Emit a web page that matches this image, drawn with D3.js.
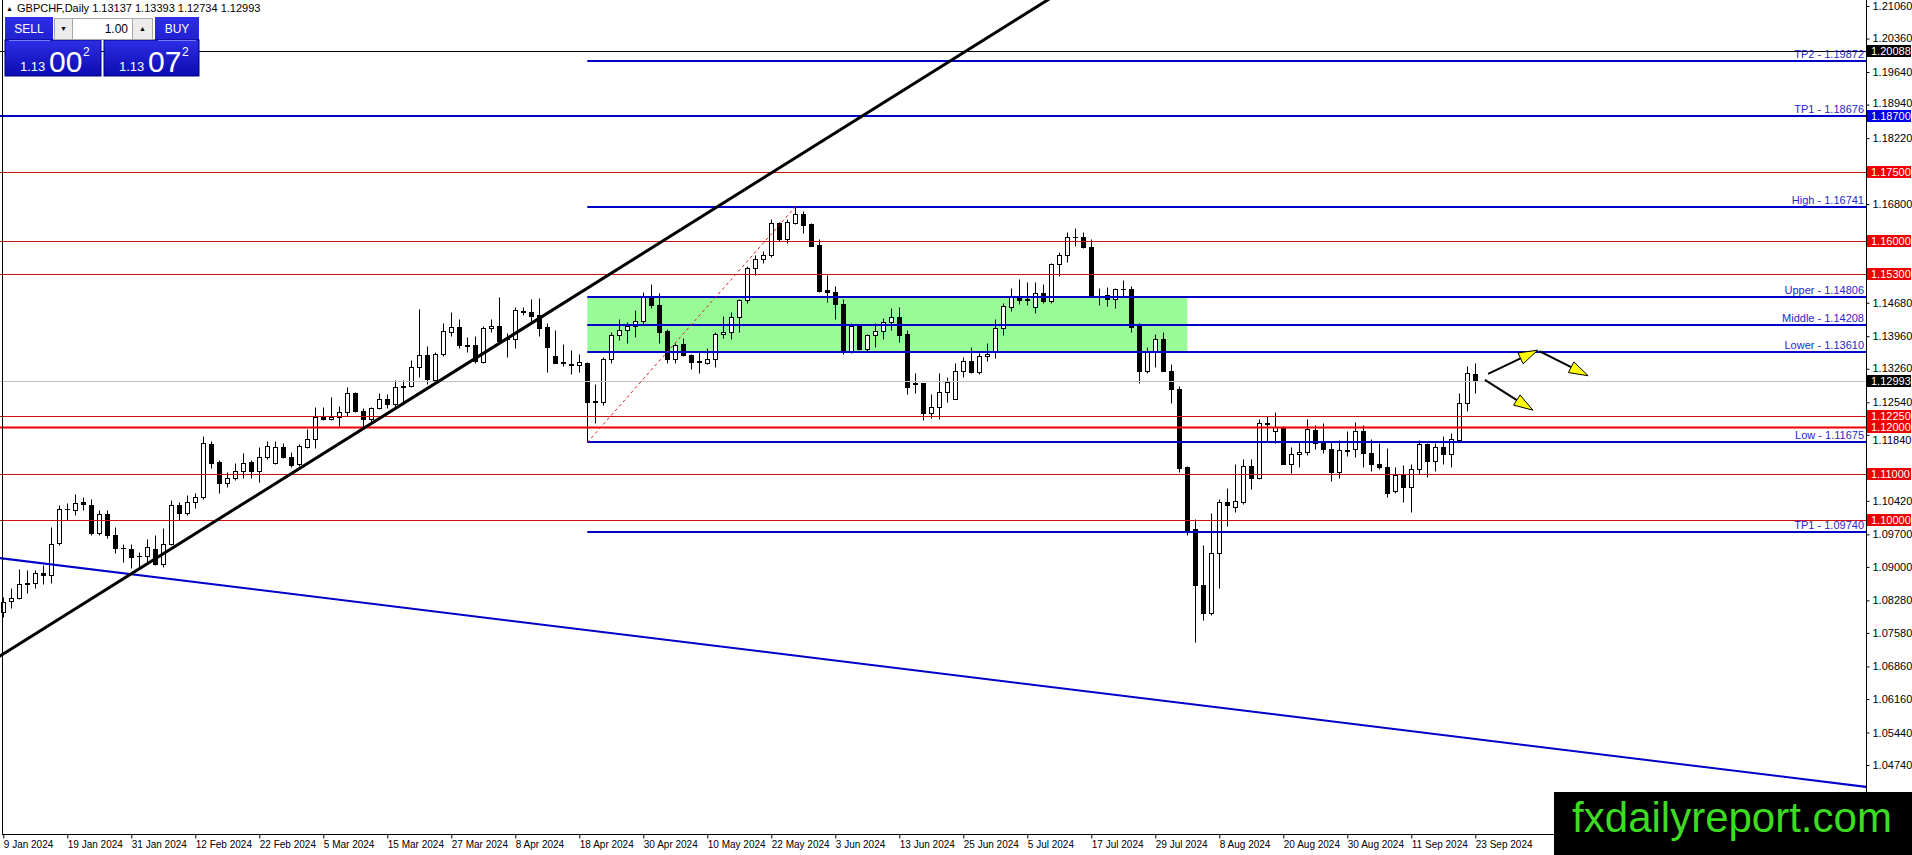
<!DOCTYPE html>
<html>
<head>
<meta charset="utf-8">
<title>GBPCHF Daily</title>
<script src="https://cdn.jsdelivr.net/npm/d3@7/dist/d3.min.js"></script>
<style>
  body { margin: 0; background: #fff; overflow: hidden; }
  svg { display: block; font-family: "Liberation Sans", Arial, sans-serif; }
</style>
</head>
<body>
<svg id="chart" width="1912" height="855"></svg>
<script>
// GBPCHF daily bars, 9 Jan 2024 .. 23 Sep 2024 (one per trading day)
const opens = [
  1.0804,1.0827,1.0834,1.0863,1.0866,1.0886,1.0882,1.0952,1.1024,1.1022,
  1.1039,1.1034,1.0973,1.1013,1.0968,1.0940,1.0938,1.0923,1.0923,1.0938,
  1.0907,1.0950,1.1034,1.1016,1.1040,1.1051,1.1164,1.1125,1.1080,1.1092,
  1.1107,1.1125,1.1107,1.1137,1.1124,1.1157,1.1137,1.1121,1.1158,1.1176,
  1.1223,1.1217,1.1222,1.1234,1.1273,1.1236,1.1219,1.1241,1.1262,1.1250,
  1.1287,1.1289,1.1329,1.1356,1.1302,1.1357,1.1406,1.1415,1.1378,1.1378,
  1.1341,1.1413,1.1418,1.1389,1.1389,1.1451,1.1447,1.1442,1.1416,1.1353,
  1.1340,1.1337,1.1335,1.1339,1.1254,1.1254,1.1346,1.1399,1.1409,1.1418,
  1.1429,1.1480,1.1464,1.1407,1.1348,1.1379,1.1356,1.1342,1.1339,1.1346,
  1.1401,1.1406,1.1438,1.1474,1.1542,1.1563,1.1571,1.1640,1.1604,1.1640,
  1.1659,1.1637,1.1592,1.1495,1.1490,1.1465,1.1361,1.1418,1.1368,1.1399,
  1.1407,1.1427,1.1438,1.1401,1.1294,1.1295,1.1230,1.1243,1.1275,1.1262,
  1.1322,1.1343,1.1320,1.1353,1.1361,1.1413,1.1458,1.1481,1.1477,1.1458,
  1.1488,1.1472,1.1551,1.1571,1.1609,1.1609,1.1587,1.1482,1.1485,1.1475,
  1.1497,1.1498,1.1422,1.1322,1.1363,1.1389,1.1322,1.1282,1.1115,1.0981,
  1.0861,1.0800,1.0929,1.1040,1.1029,1.1040,1.1117,1.1092,1.1210,1.1193,
  1.1201,1.1122,1.1142,1.1146,1.1194,1.1167,1.1153,1.1103,1.1150,1.1153,
  1.1192,1.1144,1.1122,1.1115,1.1064,1.1097,1.1071,1.1110,1.1164,1.1128,
  1.1157,1.1143,1.1173,1.1253,1.13137
];
const highs = [
  1.0836,1.0854,1.0895,1.0893,1.0893,1.0904,1.0985,1.1033,1.1037,1.1056,
  1.1051,1.1047,1.1022,1.1022,1.0986,1.0950,1.0950,1.0933,1.0961,1.0968,
  1.0983,1.1044,1.1040,1.1054,1.1058,1.1181,1.1171,1.1130,1.1103,1.1124,
  1.1144,1.1130,1.1157,1.1171,1.1171,1.1167,1.1148,1.1164,1.1196,1.1244,
  1.1244,1.1265,1.1246,1.1286,1.1277,1.1241,1.1244,1.1273,1.1271,1.1302,
  1.1302,1.1345,1.1454,1.1376,1.1363,1.1425,1.1447,1.1434,1.1395,1.1396,
  1.1418,1.1434,1.1481,1.1402,1.1458,1.1459,1.1477,1.1479,1.1425,1.1409,
  1.1379,1.1366,1.1358,1.1341,1.1293,1.1351,1.1404,1.1432,1.1427,1.1452,
  1.1490,1.1508,1.1488,1.1411,1.1381,1.1393,1.1358,1.1363,1.1370,1.1404,
  1.1439,1.1449,1.1475,1.1547,1.1571,1.1580,1.1647,1.1642,1.1649,1.16741,
  1.1666,1.1640,1.1604,1.1528,1.1504,1.1477,1.1424,1.1420,1.1400,1.1424,
  1.1436,1.1456,1.1458,1.1409,1.1317,1.1296,1.1272,1.1316,1.1309,1.1339,
  1.1352,1.1372,1.1359,1.1382,1.1434,1.1467,1.1499,1.1518,1.1513,1.1513,
  1.1508,1.1554,1.1576,1.1621,1.1628,1.1621,1.1606,1.1499,1.1502,1.1499,
  1.1517,1.1503,1.1424,1.1373,1.1401,1.1406,1.1336,1.1289,1.1117,1.1002,
  1.0947,1.1015,1.1047,1.1069,1.1121,1.1131,1.1133,1.1217,1.1224,1.1233,
  1.1203,1.1158,1.1171,1.1219,1.1205,1.1210,1.1171,1.1173,1.1193,1.1212,
  1.1205,1.1174,1.1167,1.1155,1.1115,1.1119,1.1122,1.1173,1.1167,1.1167,
  1.1181,1.1187,1.1274,1.1332,1.13393
];
const lows = [
  1.0793,1.0811,1.0830,1.0843,1.0854,1.0864,1.0866,1.0947,1.1001,1.1011,
  1.1022,1.0968,1.0968,1.0963,1.0930,1.0911,1.0897,1.0897,1.0909,1.0904,
  1.0900,1.0947,1.1001,1.1011,1.1026,1.1047,1.1112,1.1058,1.1071,1.1087,
  1.1092,1.1092,1.1082,1.1133,1.1121,1.1135,1.1115,1.1117,1.1155,1.1155,
  1.1216,1.1216,1.1203,1.1224,1.1234,1.1201,1.1212,1.1239,1.1241,1.1244,
  1.1252,1.1287,1.1309,1.1293,1.1298,1.1353,1.1396,1.1370,1.1363,1.1339,
  1.1339,1.1406,1.1381,1.1352,1.1370,1.1442,1.1427,1.1396,1.1318,1.1338,
  1.1332,1.1315,1.1320,1.11675,1.1210,1.1248,1.1339,1.1388,1.1381,1.1395,
  1.1422,1.1456,1.1381,1.1339,1.1339,1.1353,1.1325,1.1316,1.1336,1.1330,
  1.1393,1.1391,1.1406,1.1467,1.1528,1.1553,1.1566,1.1601,1.1597,1.1637,
  1.1617,1.1589,1.1492,1.1470,1.1434,1.1358,1.1359,1.1366,1.1365,1.1372,
  1.1389,1.1409,1.1384,1.1272,1.1273,1.1216,1.1221,1.1217,1.1254,1.1261,
  1.1309,1.1317,1.1314,1.1343,1.1350,1.1399,1.1451,1.1465,1.1463,1.1445,
  1.1467,1.1468,1.1525,1.1556,1.1590,1.1585,1.1480,1.1463,1.1460,1.1456,
  1.1482,1.1406,1.1295,1.1316,1.1330,1.1321,1.1253,1.1105,1.0968,1.0739,
  1.0786,1.0796,1.0854,1.0988,1.1019,1.1035,1.1067,1.1088,1.1169,1.1166,
  1.1121,1.1102,1.1115,1.1140,1.1153,1.1144,1.1085,1.1092,1.1139,1.1137,
  1.1114,1.1107,1.1110,1.1051,1.1058,1.1040,1.1019,1.1100,1.1094,1.1107,
  1.1122,1.1115,1.1171,1.1236,1.12734
];
const closes = [
  1.0825,1.0834,1.0864,1.0866,1.0886,1.0882,1.0950,1.1024,1.1025,1.1038,
  1.1035,1.0973,1.1013,1.0968,1.0940,1.0941,1.0922,1.0924,1.0942,1.0907,
  1.0950,1.1034,1.1016,1.1040,1.1051,1.1166,1.1124,1.1080,1.1092,1.1107,
  1.1124,1.1107,1.1137,1.1160,1.1157,1.1137,1.1119,1.1160,1.1176,1.1223,
  1.1217,1.1223,1.1234,1.1273,1.1236,1.1217,1.1241,1.1262,1.1250,1.1287,
  1.1289,1.1329,1.1356,1.1305,1.1357,1.1407,1.1415,1.1377,1.1376,1.1343,
  1.1413,1.1418,1.1386,1.1393,1.1452,1.1449,1.1440,1.1414,1.1373,1.1339,
  1.1338,1.1335,1.1340,1.1254,1.1256,1.1346,1.1399,1.1409,1.1418,1.1429,
  1.1480,1.1464,1.1406,1.1348,1.1377,1.1356,1.1341,1.1340,1.1346,1.1401,
  1.1406,1.1438,1.1474,1.1542,1.1563,1.1571,1.1639,1.1604,1.1642,1.1659,
  1.1635,1.1590,1.1494,1.1490,1.1465,1.1361,1.1418,1.1368,1.1399,1.1407,
  1.1427,1.1438,1.1399,1.1286,1.1295,1.1230,1.1243,1.1275,1.1297,1.1322,
  1.1343,1.1320,1.1353,1.1358,1.1413,1.1461,1.1481,1.1474,1.1474,1.1488,
  1.1472,1.1551,1.1571,1.1609,1.1610,1.1587,1.1481,1.1483,1.1475,1.1497,
  1.1498,1.1416,1.1322,1.1363,1.1389,1.1322,1.1282,1.1112,1.0976,1.0861,
  1.0800,1.0929,1.1040,1.1033,1.1042,1.1117,1.1092,1.1209,1.1208,1.1201,
  1.1122,1.1142,1.1146,1.1196,1.1166,1.1153,1.1103,1.1151,1.1152,1.1192,
  1.1144,1.1122,1.1115,1.1059,1.1097,1.1071,1.1110,1.1164,1.1128,1.1157,
  1.1143,1.1174,1.1253,1.1316,1.12993
];

// time axis labels, one every 8 bars
const dateLabels = ["9 Jan 2024","19 Jan 2024","31 Jan 2024","12 Feb 2024","22 Feb 2024",
  "5 Mar 2024","15 Mar 2024","27 Mar 2024","8 Apr 2024","18 Apr 2024","30 Apr 2024",
  "10 May 2024","22 May 2024","3 Jun 2024","13 Jun 2024","25 Jun 2024","5 Jul 2024",
  "17 Jul 2024","29 Jul 2024","8 Aug 2024","20 Aug 2024","30 Aug 2024","11 Sep 2024","23 Sep 2024"];
const labelStep = 8;

const priceTicks = [1.21060,1.20360,1.19640,1.18940,1.18220,1.17500,1.16800,1.16080,1.15380,
  1.14680,1.13960,1.13260,1.12540,1.11840,1.11120,1.10420,1.09700,1.09000,1.08280,1.07580,
  1.06860,1.06160,1.05440,1.04740];

// horizontal support / resistance levels
const redLevels = [1.17500, 1.16000, 1.15300, 1.12250, 1.12000, 1.11000, 1.10000];
const blackLevel = 1.20088;
const levelPrices = [1.19872, 1.18700, 1.16741, 1.14806, 1.14208, 1.13610, 1.11675, 1.09740];
const levelTexts = ["TP2 - 1.19872","TP1 - 1.18676","High - 1.16741","Upper - 1.14806",
  "Middle - 1.14208","Lower - 1.13610","Low - 1.11675","TP1 - 1.09740"];
const levelFromBar = [73, null, 73, 73, 73, 73, 73, 73];

// zone box (bar range, price range)
const zoneBars = [73, 148];
const zonePrices = [1.14806, 1.13610];

// trend lines: two anchor points each (bar, price)
const upTrendBars = [0, 100], upTrendPrices = [1.0713, 1.1790];
const downTrendBars = [0, 184], downTrendPrices = [1.0918, 1.0530];
const fibBars = [73, 99], fibPrices = [1.11675, 1.16741];

// forecast arrows
const arrowFromBar = [185.6, 192.0, 185.2], arrowFromPrice = [1.1315, 1.1364, 1.1302];
const arrowToBar = [191.8, 198.1, 191.2], arrowToPrice = [1.1366, 1.1311, 1.1237];

const plotRight = 1866, plotBottom = 834;
const svg = d3.select("#chart");
const n = opens.length;
const fmt = d3.format(".5f");

const x = d3.scaleLinear().domain([0, n - 1]).range([3.3, 3.3 + 8 * (n - 1)]);
const y = d3.scaleLinear().domain([1.03257, 1.21189]).range([plotBottom, 0]);
const px = v => Math.round(x(v)) + 0.5;
const py = v => Math.round(y(v)) + 0.5;

const defs = svg.append("defs");
defs.append("clipPath").attr("id", "plot")
  .append("rect").attr("width", plotRight).attr("height", plotBottom);
const grad = defs.append("linearGradient").attr("id", "btn").attr("x1", 0).attr("y1", 0).attr("x2", 0).attr("y2", 1);
grad.append("stop").attr("offset", "0%").attr("stop-color", "#2e2ee6");
grad.append("stop").attr("offset", "100%").attr("stop-color", "#0b0bb0");

const g = svg.append("g").attr("clip-path", "url(#plot)");

// zone
g.append("rect")
  .attr("x", x(zoneBars[0])).attr("width", x(zoneBars[1]) - x(zoneBars[0]))
  .attr("y", y(zonePrices[0])).attr("height", y(zonePrices[1]) - y(zonePrices[0]))
  .attr("fill", "#98fb98");

// candles
const bars = g.append("g").selectAll("g").data(d3.range(n)).join("g");
bars.append("line")
  .attr("x1", i => px(i)).attr("x2", i => px(i))
  .attr("y1", i => py(highs[i])).attr("y2", i => py(lows[i]))
  .attr("stroke", "#000").attr("stroke-width", 1);
bars.append("rect")
  .attr("x", i => px(i) - 2).attr("width", 4)
  .attr("y", i => py(Math.max(opens[i], closes[i])))
  .attr("height", i => Math.max(0.01, py(Math.min(opens[i], closes[i])) - py(Math.max(opens[i], closes[i]))))
  .attr("fill", i => closes[i] >= opens[i] ? "#fff" : "#000")
  .attr("stroke", "#000").attr("stroke-width", 1)
  .attr("shape-rendering", "crispEdges");

// current price line
g.append("line").attr("x1", 0).attr("x2", plotRight)
  .attr("y1", py(closes[n - 1])).attr("y2", py(closes[n - 1]))
  .attr("stroke", "#c0c0c0").attr("stroke-width", 1);

// red levels
g.selectAll(".red").data(redLevels).join("line")
  .attr("x1", 0).attr("x2", plotRight)
  .attr("y1", d => py(d)).attr("y2", d => py(d))
  .attr("stroke", d => d === 1.12 ? "#ee0000" : "#cc1111")
  .attr("stroke-width", d => d === 1.12 ? 2 : 1);

// black level
g.append("line").attr("x1", 0).attr("x2", plotRight)
  .attr("y1", py(blackLevel)).attr("y2", py(blackLevel))
  .attr("stroke", "#000").attr("stroke-width", 1);

// blue levels
g.selectAll(".blue").data(levelPrices).join("line")
  .attr("x1", (d, i) => levelFromBar[i] === null ? 0 : x(levelFromBar[i])).attr("x2", plotRight)
  .attr("y1", d => Math.round(y(d))).attr("y2", d => Math.round(y(d)))
  .attr("stroke", "#0000c8").attr("stroke-width", 2);

// trend lines extended across the chart
function extend(bars, prices) {
  const slope = (prices[1] - prices[0]) / (bars[1] - bars[0]);
  const at = b => prices[0] + slope * (b - bars[0]);
  return [[-5, at(-5)], [260, at(260)]];
}
const lineGen = d3.line().x(d => x(d[0])).y(d => y(d[1]));
g.append("path").attr("d", lineGen(extend(downTrendBars, downTrendPrices)))
  .attr("stroke", "#0000c8").attr("stroke-width", 2).attr("fill", "none");
g.append("path").attr("d", lineGen(extend(upTrendBars, upTrendPrices)))
  .attr("stroke", "#000").attr("stroke-width", 3).attr("fill", "none");
g.append("path").attr("d", lineGen(d3.zip(fibBars, fibPrices)))
  .attr("stroke", "#dd2222").attr("stroke-width", 1).attr("stroke-dasharray", "3,3").attr("fill", "none");

// arrows
arrowFromBar.forEach((b, i) => {
  const x0 = x(b), y0 = y(arrowFromPrice[i]), x1 = x(arrowToBar[i]), y1 = y(arrowToPrice[i]);
  const len = Math.hypot(x1 - x0, y1 - y0), ux = (x1 - x0) / len, uy = (y1 - y0) / len;
  const hl = 19, hw = 6;
  const bx = x1 - ux * hl, by = y1 - uy * hl;
  g.append("line").attr("x1", x0).attr("y1", y0).attr("x2", bx).attr("y2", by)
    .attr("stroke", "#000").attr("stroke-width", 2);
  g.append("polygon")
    .attr("points", [[x1, y1], [bx - uy * hw, by + ux * hw], [bx + uy * hw, by - ux * hw]].map(p => p.join(",")).join(" "))
    .attr("fill", "#ffff00").attr("stroke", "#000").attr("stroke-width", 1);
});

// level captions
g.selectAll(".cap").data(levelPrices).join("text")
  .attr("x", plotRight - 2).attr("y", d => Math.round(y(d)) - 3)
  .attr("text-anchor", "end").attr("font-size", 11).attr("fill", "#2828c8")
  .text((d, i) => levelTexts[i]);

// frame
svg.append("line").attr("x1", 2.5).attr("x2", 2.5).attr("y1", 0).attr("y2", plotBottom).attr("stroke", "#000");
svg.append("line").attr("x1", plotRight + 0.5).attr("x2", plotRight + 0.5).attr("y1", 0).attr("y2", plotBottom + 0.5).attr("stroke", "#000");
svg.append("line").attr("x1", 2).attr("x2", plotRight + 1).attr("y1", plotBottom + 0.5).attr("y2", plotBottom + 0.5).attr("stroke", "#000");

// coloured price tags on the axis
const tags = [];
tags.push({ p: blackLevel, c: "#000" });
tags.push({ p: levelPrices[1], c: "#0000e6" });
redLevels.forEach(p => tags.push({ p: p, c: "#ee0000" }));
tags.push({ p: closes[n - 1], c: "#000" });

// price axis; labels covered by a tag are hidden, close ones nudged aside
const yAxis = svg.append("g").attr("transform", `translate(${plotRight + 0.5},0)`)
  .call(d3.axisRight(y).tickValues(priceTicks).tickFormat(fmt).tickSize(3).tickPadding(3));
yAxis.select(".domain").remove();
yAxis.selectAll(".tick").each(function (d) {
  const t = d3.select(this).select("text")
    .attr("font-size", 11).attr("fill", "#000").attr("font-family", "Liberation Sans, Arial, sans-serif");
  const near = d3.least(tags, k => Math.abs(y(k.p) - y(d)));
  const gap = y(d) - y(near.p);
  if (Math.abs(gap) < 6.5) t.remove();
  else if (Math.abs(gap) < 13) t.attr("y", Math.sign(gap) * (13 - Math.abs(gap)));
});

const tag = svg.append("g").selectAll("g").data(tags).join("g")
  .attr("transform", d => `translate(${plotRight + 1},${Math.round(y(d.p))})`);
tag.append("rect").attr("x", 0).attr("y", -6).attr("width", 44).attr("height", 12).attr("fill", d => d.c);
tag.append("text").attr("x", 4).attr("y", 4).attr("font-size", 11).attr("fill", "#fff").text(d => fmt(d.p));

// time axis
const xAxis = svg.append("g").attr("transform", `translate(0,${plotBottom + 0.5})`)
  .call(d3.axisBottom(x).tickValues(dateLabels.map((d, i) => i * labelStep))
    .tickFormat((d, i) => dateLabels[i]).tickSize(4));
xAxis.select(".domain").remove();
xAxis.selectAll("text").attr("text-anchor", "start").attr("x", 0).attr("y", 6)
  .attr("font-size", 10).attr("fill", "#000").attr("font-family", "Liberation Sans, Arial, sans-serif");

// symbol header
svg.append("text").attr("x", 6).attr("y", 11).attr("font-size", 7).text("\u25B2");
svg.append("text").attr("x", 17).attr("y", 12).attr("font-size", 11)
  .text(`GBPCHF,Daily  ${fmt(opens[n - 1])} ${fmt(highs[n - 1])} ${fmt(lows[n - 1])} ${fmt(closes[n - 1])}`);

// one-click trading panel
const panel = svg.append("g");
panel.append("rect").attr("x", 5).attr("y", 17).attr("width", 48).attr("height", 59).attr("fill", "url(#btn)");
panel.append("rect").attr("x", 5).attr("y", 40).attr("width", 96).attr("height", 36).attr("fill", "url(#btn)").attr("stroke", "#000080");
panel.append("rect").attr("x", 155).attr("y", 17).attr("width", 44).attr("height", 59).attr("fill", "url(#btn)");
panel.append("rect").attr("x", 104).attr("y", 40).attr("width", 95).attr("height", 36).attr("fill", "url(#btn)").attr("stroke", "#000080");
panel.append("line").attr("x1", 9).attr("x2", 50).attr("y1", 40.5).attr("y2", 40.5).attr("stroke", "#7a7aff");
panel.append("line").attr("x1", 158).attr("x2", 196).attr("y1", 40.5).attr("y2", 40.5).attr("stroke", "#7a7aff");
panel.append("text").attr("x", 29).attr("y", 33).attr("text-anchor", "middle").attr("font-size", 12).attr("fill", "#fff").text("SELL");
panel.append("text").attr("x", 177).attr("y", 33).attr("text-anchor", "middle").attr("font-size", 12).attr("fill", "#fff").text("BUY");
panel.append("rect").attr("x", 54.5).attr("y", 18.5).attr("width", 18).attr("height", 21).attr("fill", "#ececec").attr("stroke", "#a8a8a8");
panel.append("rect").attr("x", 72.5).attr("y", 18.5).attr("width", 60).attr("height", 21).attr("fill", "#fff").attr("stroke", "#a8a8a8");
panel.append("rect").attr("x", 132.5).attr("y", 18.5).attr("width", 20).attr("height", 21).attr("fill", "#ececec").attr("stroke", "#a8a8a8");
panel.append("text").attr("x", 63.5).attr("y", 31).attr("text-anchor", "middle").attr("font-size", 7).text("\u25BC");
panel.append("text").attr("x", 142.5).attr("y", 31).attr("text-anchor", "middle").attr("font-size", 7).text("\u25B2");
panel.append("text").attr("x", 128).attr("y", 33).attr("text-anchor", "end").attr("font-size", 12).text("1.00");
[[20, "1.13", "00", "2"], [119, "1.13", "07", "2"]].forEach(([x0, a, b, c]) => {
  panel.append("text").attr("x", x0).attr("y", 71).attr("font-size", 13).attr("fill", "#fff").text(a);
  panel.append("text").attr("x", x0 + 29).attr("y", 72).attr("font-size", 30).attr("fill", "#fff").text(b);
  panel.append("text").attr("x", x0 + 63).attr("y", 56).attr("font-size", 12).attr("fill", "#fff").text(c);
});

// watermark
svg.append("rect").attr("x", 1554).attr("y", 792).attr("width", 358).attr("height", 63).attr("fill", "#000");
svg.append("text").attr("x", 1732).attr("y", 832).attr("text-anchor", "middle")
  .attr("font-size", 42).attr("fill", "#3ddc22").text("fxdailyreport.com");
</script>
</body>
</html>
